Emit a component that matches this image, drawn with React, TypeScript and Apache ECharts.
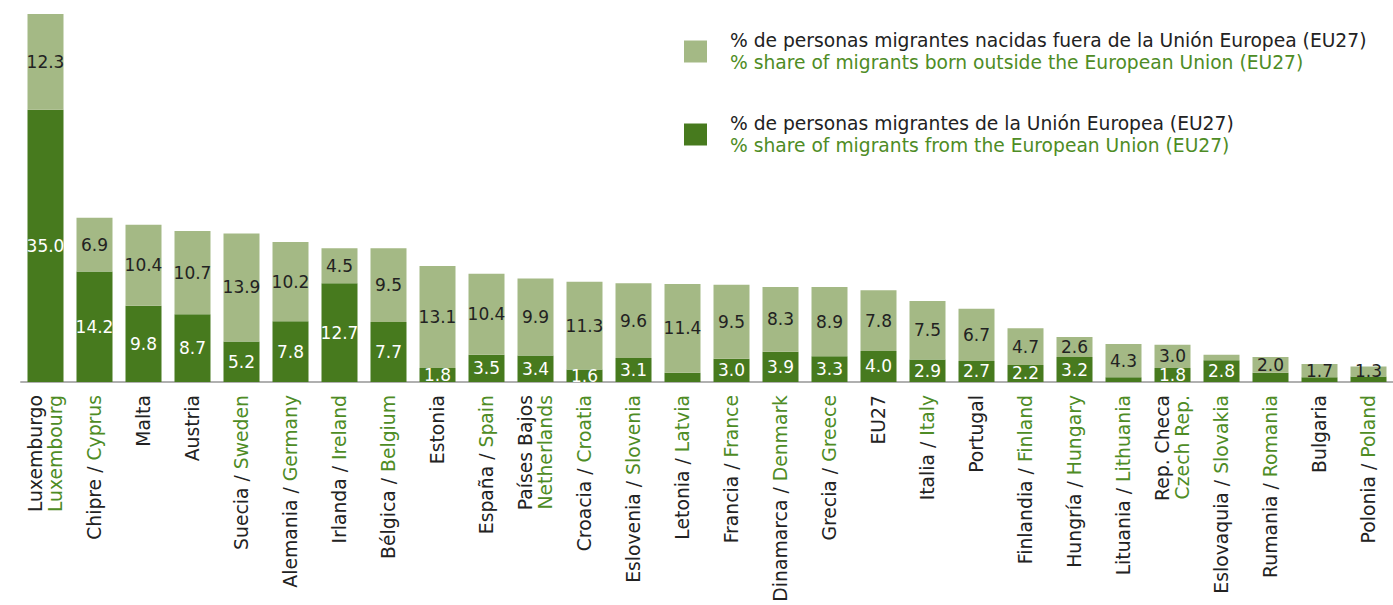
import React, { useEffect, useRef } from "react";
import * as echarts from "echarts";

const namesEs = [
  "Luxemburgo", "Chipre", "Malta", "Austria", "Suecia", "Alemania", "Irlanda", "Bélgica",
  "Estonia", "España", "Países Bajos", "Croacia", "Eslovenia", "Letonia", "Francia", "Dinamarca",
  "Grecia", "EU27", "Italia", "Portugal", "Finlandia", "Hungría", "Lituania", "Rep. Checa",
  "Eslovaquia", "Rumania", "Bulgaria", "Polonia",
];
const namesEn = [
  "Luxembourg", "Cyprus", "", "", "Sweden", "Germany", "Ireland", "Belgium",
  "", "Spain", "Netherlands", "Croatia", "Slovenia", "Latvia", "France", "Denmark",
  "Greece", "", "Italy", "", "Finland", "Hungary", "Lithuania", "Czech Rep.",
  "Slovakia", "Romania", "", "Poland",
];
const twoLine = ["Luxemburgo", "Países Bajos", "Rep. Checa"];

const euShare = [
  35.0, 14.2, 9.8, 8.7, 5.2, 7.8, 12.7, 7.7,
  1.8, 3.5, 3.4, 1.6, 3.1, 1.2, 3.0, 3.9,
  3.3, 4.0, 2.9, 2.7, 2.2, 3.2, 0.6, 1.8,
  2.8, 1.2, 0.6, 0.7,
];
const outsideShare = [
  12.3, 6.9, 10.4, 10.7, 13.9, 10.2, 4.5, 9.5,
  13.1, 10.4, 9.9, 11.3, 9.6, 11.4, 9.5, 8.3,
  8.9, 7.8, 7.5, 6.7, 4.7, 2.6, 4.3, 3.0,
  0.7, 2.0, 1.7, 1.3,
];

const legendOutside = [
  "% de personas migrantes nacidas fuera de la Unión Europea (EU27)",
  "% share of migrants born outside the European Union (EU27)",
];
const legendEu = [
  "% de personas migrantes de la Unión Europea (EU27)",
  "% share of migrants from the European Union (EU27)",
];

const DARK = "#477a1e";
const LIGHT = "#a4b985";
const GREEN_TEXT = "#4e8c25";
const FONT = "DejaVu Sans";

export default function App() {
  const ref = useRef<HTMLDivElement>(null);
  useEffect(() => {
    if (!ref.current) return;
    const chart = echarts.init(ref.current, undefined, { renderer: "svg" });
    const catLabel = (i: number) => {
      const es = namesEs[i];
      const en = namesEn[i];
      if (!en) return `{a|${es}}`;
      if (twoLine.includes(es)) return `{a|${es}}\n{b|${en}}`;
      return `{a|${es} / }{b|${en}}`;
    };
    const fmt = (p: any) => (p.value >= 1.25 ? Number(p.value).toFixed(1) : "");
    const legendNameOut = `{a|${legendOutside[0]}}\n{b|${legendOutside[1]}}`;
    const legendNameEu = `{a|${legendEu[0]}}\n{b|${legendEu[1]}}`;
    chart.setOption({
      animation: false,
      textStyle: { fontFamily: FONT },
      grid: { left: 21, top: 14, width: 1376, height: 368 },
      legend: {
        orient: "vertical",
        left: 684,
        top: 31,
        padding: 0,
        itemWidth: 23,
        itemHeight: 22,
        itemGap: 42,
        icon: "rect",
        data: ["out", "eu"],
        formatter: (name: string) => (name === "out" ? legendNameOut : legendNameEu),
        textStyle: {
          fontFamily: FONT,
          padding: [0, 0, 0, 18],
          rich: {
            a: { fontFamily: FONT, fontSize: 18.7, color: "#222", lineHeight: 22 },
            b: { fontFamily: FONT, fontSize: 18.7, color: GREEN_TEXT, lineHeight: 22 },
          },
        },
      },
      xAxis: {
        type: "category",
        data: namesEs.map((_, i) => String(i)),
        axisTick: { show: false },
        axisLine: { lineStyle: { color: "#b0b0b0", width: 2 } },
        axisLabel: {
          rotate: 90,
          interval: 0,
          margin: 13,
          formatter: (_v: string, i: number) => catLabel(i),
          rich: {
            a: { fontFamily: FONT, fontSize: 18.8, color: "#222", lineHeight: 20 },
            b: { fontFamily: FONT, fontSize: 18.8, color: GREEN_TEXT, lineHeight: 20 },
          },
        },
      },
      yAxis: { type: "value", min: 0, max: 47.3, show: false, splitLine: { show: false } },
      series: [
        {
          name: "eu",
          type: "bar",
          stack: "t",
          barWidth: 36,
          data: euShare,
          itemStyle: { color: DARK },
          label: {
            show: true,
            position: "inside",
            color: "#fff",
            fontFamily: FONT,
            fontSize: 17,
            formatter: fmt,
          },
        },
        {
          name: "out",
          type: "bar",
          stack: "t",
          barWidth: 36,
          data: outsideShare,
          itemStyle: { color: LIGHT },
          label: {
            show: true,
            position: "inside",
            color: "#222",
            fontFamily: FONT,
            fontSize: 17,
            formatter: fmt,
          },
        },
      ],
    });
    return () => chart.dispose();
  }, []);
  return (
    <div
      ref={ref}
      style={{ position: "fixed", left: 0, top: 0, width: 1393, height: 605, background: "#fff" }}
    />
  );
}
